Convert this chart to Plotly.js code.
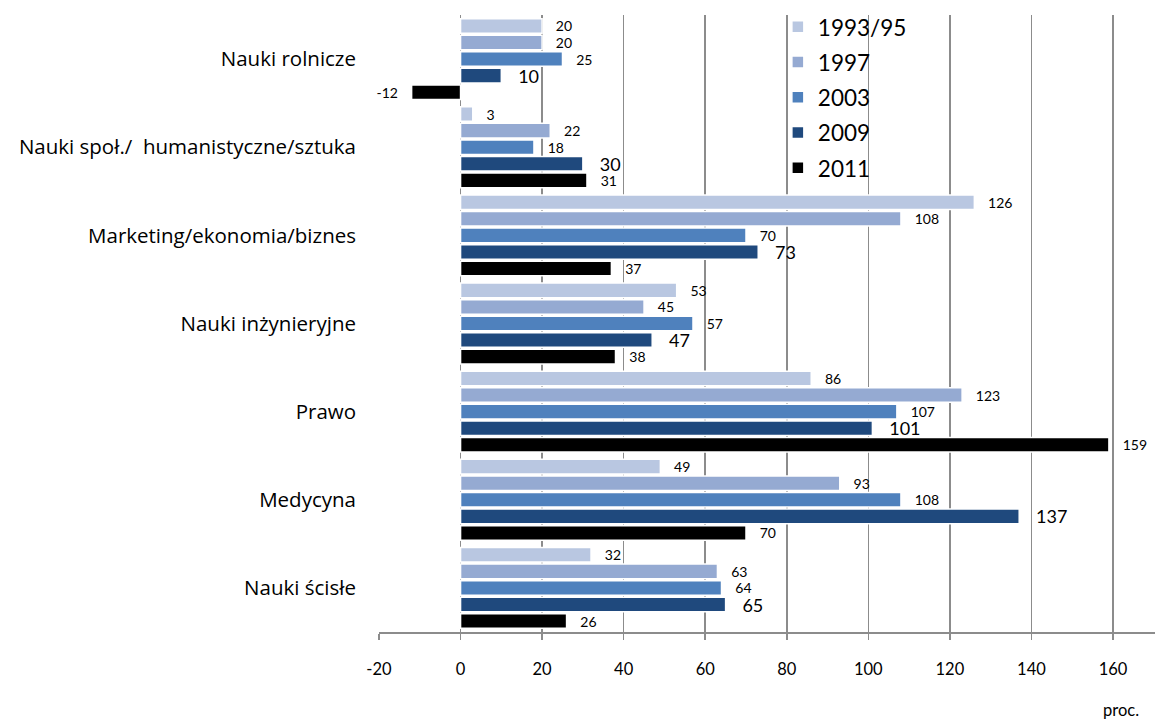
<!DOCTYPE html>
<html><head><meta charset="utf-8">
<script src="https://cdn.plot.ly/plotly-3.0.1.min.js"></script>
<style>html,body{margin:0;padding:0;background:#fff}#chart{width:1155px;height:724px}</style>
</head><body><div id="chart"></div>
<script>
const categories = ["Nauki rolnicze","Nauki społ./  humanistyczne/sztuka","Marketing/ekonomia/biznes","Nauki inżynieryjne","Prawo","Medycyna","Nauki ścisłe"];
const seriesNames = ["1993/95","1997","2003","2009","2011"];
const v1993 = [20, 3, 126, 53, 86, 49, 32];
const v1997 = [20, 22, 108, 45, 123, 93, 63];
const v2003 = [25, 18, 70, 57, 107, 108, 64];
const v2009 = [10, 30, 73, 47, 101, 137, 65];
const v2011 = [-12, 31, 37, 38, 159, 70, 26];
const xTicks = [-20,0,20,40,60,80,100,120,140,160];
const colors = ["#B9C7E1","#95AAD2","#4F81BD","#1F497D","#000000"];
const labelSizes = [14,14,14,18,14];

const xMin = -20, xMax = 170.3;
const allVals = [v1993,v1997,v2003,v2009,v2011];
const sp = '\u00a0\u00a0\u00a0';
const traces = allVals.map((vals,i)=>({
  type:'bar', orientation:'h', name:seriesNames[i],
  y:categories, x:vals,
  marker:{color:colors[i], line:{color:'#ffffff', width:1.5}},
  text: vals.map(v => v<0 ? (v+sp) : (sp+v)),
  textposition:'outside', cliponaxis:false, constraintext:'none',
  textfont:{family:'Lato, sans-serif', size:labelSizes[i], color:'#000'},
  legendgroup:'g'+i, hoverinfo:'x+name'
}));

const grey = '#8c8c8c';
const boundaries = [];
for (let k=0;k<=categories.length;k++) boundaries.push(k-0.5);

const layout = {
  width:1155, height:724,
  margin:{l:379, r:0, t:15, b:92},
  paper_bgcolor:'#fff', plot_bgcolor:'#fff',
  barmode:'group', bargap:0.06, bargroupgap:0.12,
  font:{family:'Lato, sans-serif', color:'#000'},
  xaxis:{range:[xMin,xMax], tickvals:xTicks, ticktext:xTicks.map(String),
    showgrid:true, gridcolor:grey, gridwidth:1.5, zeroline:false,
    showline:true, linecolor:grey, linewidth:1.5, ticks:'outside', ticklen:6, tickcolor:grey, tickwidth:1.5,
    ticklabelstandoff:16, tickfont:{size:16.5, family:'Lato, sans-serif'}},
  yaxis:{type:'category', categoryarray:categories, range:[categories.length-0.5,-0.5],
    showgrid:false, zeroline:false, showline:false, ticks:'', ticklabelstandoff:22,
    tickfont:{size:20.5, family:'"Open Sans", sans-serif'}},
  yaxis2:{overlaying:'y', anchor:'free', position:(0-xMin)/(xMax-xMin), side:'left',
    range:[categories.length-0.5,-0.5], tickvals:boundaries, showticklabels:false,
    ticks:'outside', ticklen:6, tickcolor:grey, tickwidth:1.5,
    showline:true, linecolor:grey, linewidth:1.5, showgrid:false, zeroline:false},
  legend:{x:0.514, y:1.015, xanchor:'left', yanchor:'top', traceorder:'grouped', tracegroupgap:3,
    font:{size:22.5, family:'Lato, sans-serif'}, bgcolor:'rgba(255,255,255,0)'},
  annotations:[{text:'proc.', xref:'paper', yref:'paper', x:1, y:0, xanchor:'right', yanchor:'top',
    yshift:-66, xshift:-14, showarrow:false, font:{size:16.5, family:'Lato, sans-serif'}}],
  showlegend:true
};
Plotly.newPlot('chart', traces, layout, {displayModeBar:false, staticPlot:true});
</script></body></html>
